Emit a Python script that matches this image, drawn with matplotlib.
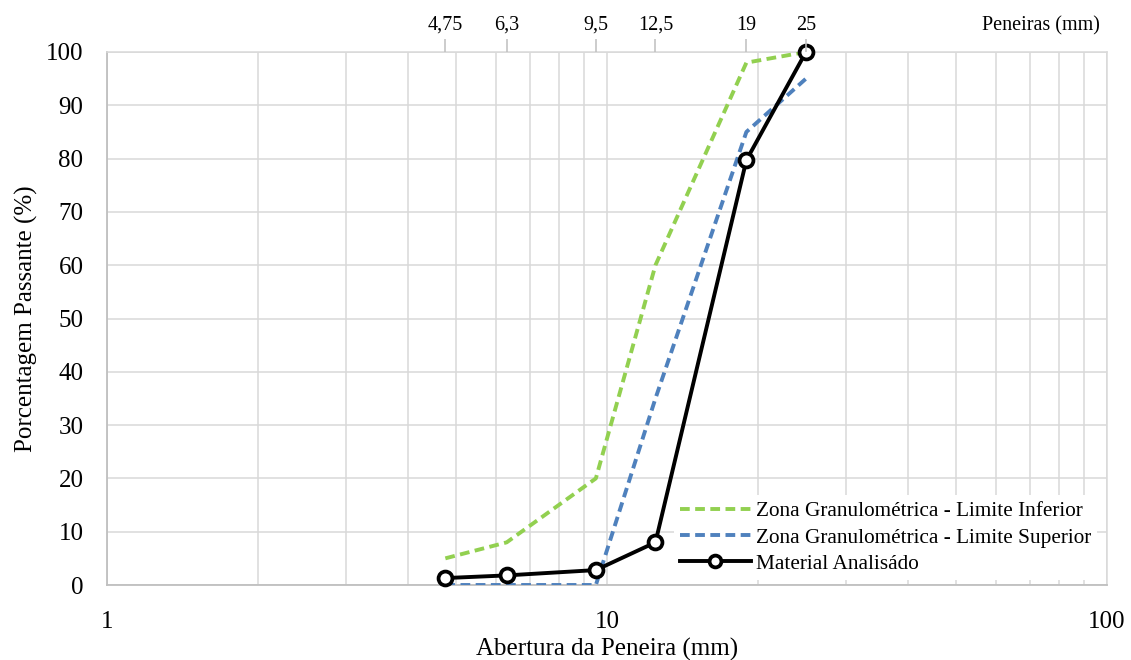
import matplotlib
matplotlib.use("Agg")
import matplotlib.pyplot as plt
from matplotlib.ticker import FixedLocator, NullFormatter, NullLocator

# Sieve openings (mm) and passing percentages
peneiras = [4.75, 6.3, 9.5, 12.5, 19, 25]
peneiras_labels = ["4,75", "6,3", "9,5", "12,5", "19", "25"]
limite_inferior = [5, 8, 20, 60, 98, 100]
limite_superior = [0, 0, 0, 35, 85, 95]
material = [1.3, 1.8, 2.8, 8.0, 79.7, 100]

plt.rcParams["font.family"] = ["Liberation Serif", "DejaVu Serif"]

grid_color = "#d9d9d9"
axis_color = "#bfbfbf"

fig = plt.figure(figsize=(11.31, 6.6), dpi=100)
ax = fig.add_axes([107 / 1131, 75 / 660, 1000 / 1131, 533 / 660])

# Grading envelope and analysed material
ax.plot(peneiras, limite_inferior, color="#92d050", lw=2.8, dashes=(2.5, 1.4),
        label="Zona Granulométrica - Limite Inferior", zorder=3)
ax.plot(peneiras, limite_superior, color="#4f81bd", lw=2.8, dashes=(2.5, 1.4),
        label="Zona Granulométrica - Limite Superior", zorder=3)
ax.plot(peneiras, material, color="black", lw=2.8, marker="o", markersize=10,
        markerfacecolor="white", markeredgecolor="black", markeredgewidth=2.7,
        label="Material Analisádo", zorder=4, clip_on=False)

# Log x axis with minor gridlines, like a spreadsheet chart
ax.set_xscale("log")
ax.set_xlim(1, 100)
ax.set_ylim(0, 100)
ax.set_yticks(range(0, 101, 10))
ax.xaxis.set_major_locator(FixedLocator([1, 10, 100]))
ax.set_xticklabels(["1", "10", "100"])
minors = [m * d for d in (1, 10) for m in range(2, 10)]
ax.xaxis.set_minor_locator(FixedLocator(minors))
ax.xaxis.set_minor_formatter(NullFormatter())
ax.grid(True, which="both", color=grid_color, lw=1.1)
ax.set_axisbelow(True)

ax.tick_params(axis="both", which="both", length=0)
ax.tick_params(axis="y", labelsize=18, pad=17)
ax.tick_params(axis="x", labelsize=18, pad=19)

for side in ("left", "bottom"):
    ax.spines[side].set_color(axis_color)
    ax.spines[side].set_linewidth(1.3)
for side in ("top", "right"):
    ax.spines[side].set_color(grid_color)
    ax.spines[side].set_linewidth(1.1)

ax.set_xlabel("Abertura da Peneira (mm)", fontsize=18, labelpad=3)
ax.set_ylabel("Porcentagem Passante (%)", fontsize=18, labelpad=6)

# Secondary top axis marking each sieve
top = ax.twiny()
top.set_xscale("log")
top.set_xlim(ax.get_xlim())
top.xaxis.set_major_locator(FixedLocator(peneiras))
top.xaxis.set_minor_locator(NullLocator())
top.set_xticklabels(peneiras_labels)
top.tick_params(axis="x", direction="out", length=9.5, width=1.1,
                color=axis_color, labelsize=14.5, pad=3)
for side in top.spines:
    top.spines[side].set_visible(False)
fig.text(1100 / 1131, 1 - 30 / 660, "Peneiras (mm)", fontsize=14.5,
         ha="right", va="baseline")

leg = ax.legend(loc="upper left", bbox_to_anchor=(674 / 1131, 1 - 495 / 660),
                bbox_transform=fig.transFigure, fontsize=15.3, frameon=True,
                facecolor="white", edgecolor="none", framealpha=1,
                fancybox=False, handlelength=3.3, handletextpad=0.25,
                labelspacing=0.3, borderpad=0.3, borderaxespad=0,
                markerscale=0.85)
leg.set_zorder(5)

fig.savefig("out.png", dpi=100)
plt.close(fig)
